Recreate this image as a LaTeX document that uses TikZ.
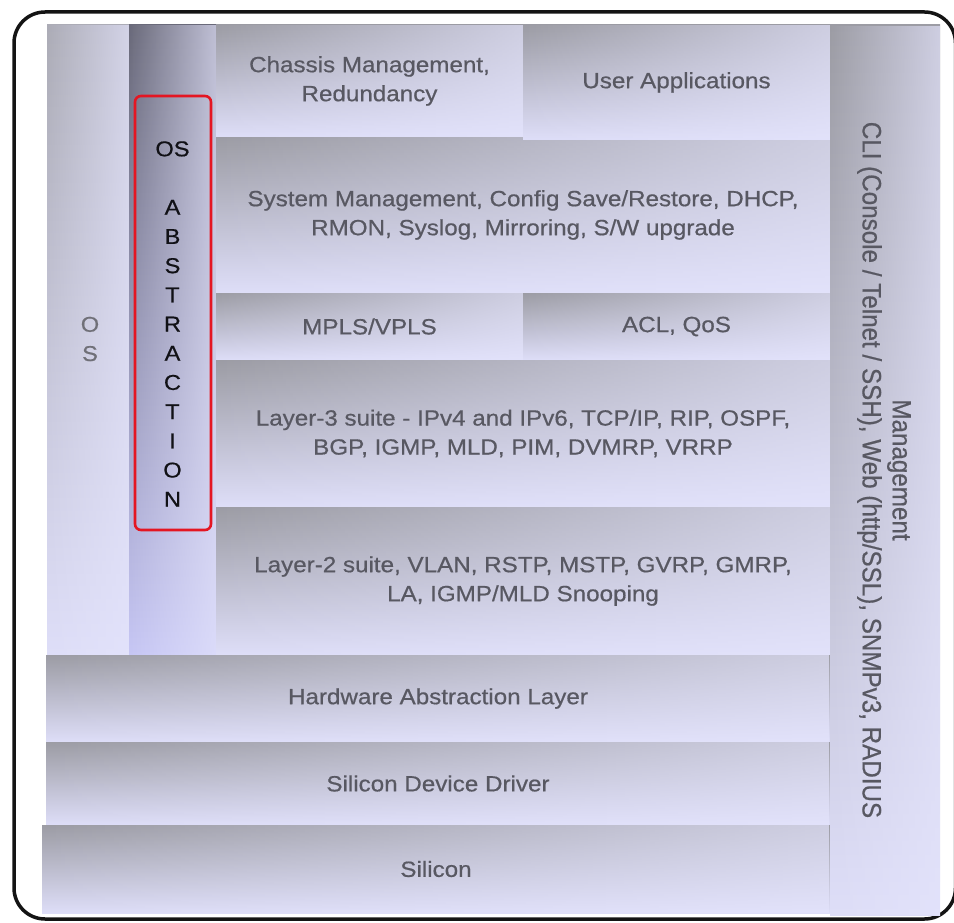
\documentclass[tikz,border=0pt]{standalone}
\usepackage{fontspec}
\setmainfont{Liberation Sans}[FakeStretch=1.1, FakeBold=0.6]
\newfontfamily\mgmtfont{Liberation Sans}[FakeStretch=0.91, FakeBold=0.6]
\usetikzlibrary{fadings}

\definecolor{shadetop}{RGB}{156,156,164}
\definecolor{shadebot}{RGB}{222,222,248}
\definecolor{lav}{RGB}{228,228,252}
\definecolor{labelgray}{RGB}{88,88,98}
\definecolor{ostop}{RGB}{172,172,182}
\definecolor{abstop}{RGB}{106,106,122}
\definecolor{absbot}{RGB}{198,198,244}
\definecolor{framered}{RGB}{228,22,34}
\definecolor{framegray}{RGB}{20,20,20}

% lighten the right-hand side of every panel
\tikzfading[name=lightright, left color=transparent!100, right color=transparent!30]

\begin{document}
\begin{tikzpicture}[x=1pt, y=-1pt,
  panel/.style={anchor=north west, inner sep=0pt, outer sep=0pt,
    top color=shadetop, bottom color=shadebot,
    postaction={fill=lav, path fading=lightright},
    text=labelgray, align=center, font=\fontsize{22}{29}\selectfont},
  vlabel/.style={inner sep=0pt, align=center, font=\fontsize{21.5}{29.2}\selectfont},
]
\useasboundingbox (0,0) rectangle (954,923);

% outer rounded frame
\draw[framegray, line width=3.5pt, rounded corners=31pt] (14,12) rectangle (955.5,919);

% left columns
\node[panel, top color=ostop, minimum width=82pt, minimum height=630pt] (oscol) at (47,25) {};
\node[panel, top color=abstop, bottom color=absbot, minimum width=87pt, minimum height=630pt] (osabs) at (129,25) {};

% protocol stack
\node[panel, minimum width=614pt, minimum height=156pt] (sysmgmt) at (216,137)
  {System Management, Config Save/Restore, DHCP,\\RMON, Syslog, Mirroring, S/W upgrade};
\node[panel, minimum width=307pt, minimum height=112pt] (chassis) at (216,25)
  {Chassis Management,\\Redundancy};
\node[panel, minimum width=307pt, minimum height=115pt] (userapp) at (523,25)
  {User Applications};
\node[panel, minimum width=307pt, minimum height=67pt] (mpls) at (216,293) {MPLS/VPLS};
\node[panel, minimum width=307pt, minimum height=67pt] (acl) at (523,293) {ACL, QoS};
\node[panel, minimum width=614pt, minimum height=147pt] (layer3) at (216,360)
  {Layer-3 suite - IPv4 and IPv6, TCP/IP, RIP, OSPF,\\BGP, IGMP, MLD, PIM, DVMRP, VRRP};
\node[panel, minimum width=614pt, minimum height=148pt] (layer2) at (216,507)
  {Layer-2 suite, VLAN, RSTP, MSTP, GVRP, GMRP,\\LA, IGMP/MLD Snooping};

% lower layers
\node[panel, minimum width=784pt, minimum height=87pt] (hal) at (46,655) {Hardware Abstraction Layer};
\node[panel, minimum width=784pt, minimum height=83pt] (sdd) at (46,742) {Silicon Device Driver};
\node[panel, minimum width=788pt, minimum height=88pt] (silicon) at (42,825) {Silicon};

% management column
\node[panel, minimum width=110pt, minimum height=890pt] (mgmt) at (830,25) {};
\node[rotate=-90, inner sep=0pt, align=center, text=labelgray,
      font=\mgmtfont\fontsize{26.6}{30}\selectfont] (mgmttext) at (884,470)
  {Management\\CLI (Console / Telnet / SSH), Web (http/SSL), SNMPv3, RADIUS};

% column labels
\node[vlabel, text={rgb,255:red,112;green,112;blue,120}] (oslabel) at (90,339) {O\\S};
\node[draw=framered, line width=2.6pt, rounded corners=6pt, inner sep=0pt,
      minimum width=76pt, minimum height=434pt] (absframe) at (173,313) {};
\node[vlabel, text={rgb,255:red,17;green,17;blue,22}] (abslabel) at (172.5,324)
  {OS\\[29.2pt]A\\B\\S\\T\\R\\A\\C\\T\\I\\O\\N};
\end{tikzpicture}
\end{document}
